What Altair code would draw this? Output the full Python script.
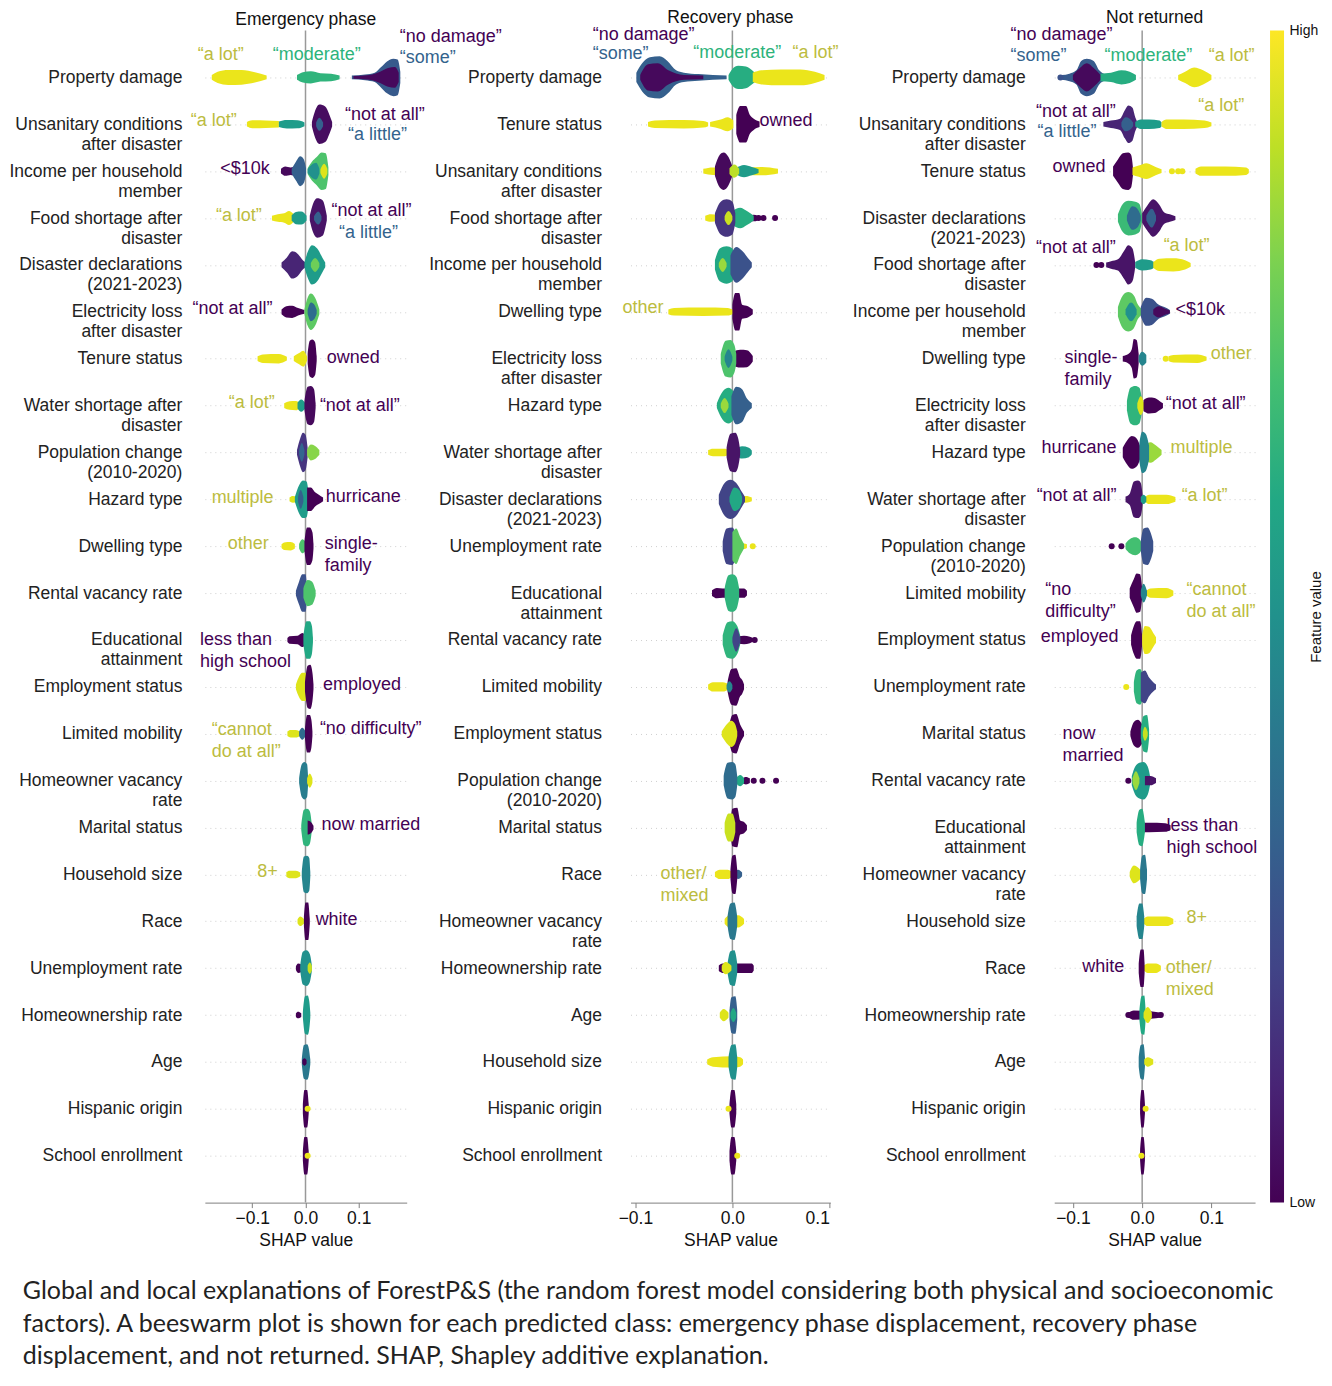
import altair as alt
import pandas as pd

FONT = "Liberation Sans"
CAPTION_FONT = "Lato"

# ---------------- feature order per panel (top to bottom) ----------------
FEATURES_EMERGENCY = [
    "Property damage", "Unsanitary conditions|after disaster", "Income per household|member",
    "Food shortage after|disaster", "Disaster declarations|(2021-2023)", "Electricity loss|after disaster",
    "Tenure status", "Water shortage after|disaster", "Population change|(2010-2020)", "Hazard type",
    "Dwelling type", "Rental vacancy rate", "Educational|attainment", "Employment status",
    "Limited mobility", "Homeowner vacancy|rate", "Marital status", "Household size", "Race",
    "Unemployment rate", "Homeownership rate", "Age", "Hispanic origin", "School enrollment",
]
FEATURES_RECOVERY = [
    "Property damage", "Tenure status", "Unsanitary conditions|after disaster", "Food shortage after|disaster",
    "Income per household|member", "Dwelling type", "Electricity loss|after disaster", "Hazard type",
    "Water shortage after|disaster", "Disaster declarations|(2021-2023)", "Unemployment rate",
    "Educational|attainment", "Rental vacancy rate", "Limited mobility", "Employment status",
    "Population change|(2010-2020)", "Marital status", "Race", "Homeowner vacancy|rate",
    "Homeownership rate", "Age", "Household size", "Hispanic origin", "School enrollment",
]
FEATURES_NOT_RETURNED = [
    "Property damage", "Unsanitary conditions|after disaster", "Tenure status", "Disaster declarations|(2021-2023)",
    "Food shortage after|disaster", "Income per household|member", "Dwelling type", "Electricity loss|after disaster",
    "Hazard type", "Water shortage after|disaster", "Population change|(2010-2020)", "Limited mobility",
    "Employment status", "Unemployment rate", "Marital status", "Rental vacancy rate", "Educational|attainment",
    "Homeowner vacancy|rate", "Household size", "Race", "Homeownership rate", "Age", "Hispanic origin",
    "School enrollment",
]

# ---------------- swarm outlines: (row, feature value, [(SHAP value, half-height in rows), ...]) ----------------
BLOBS_EMERGENCY = [
    (0, 0.97, [(-0.176, 0.05), (-0.165, 0.12), (-0.145, 0.16), (-0.12, 0.155), (-0.095, 0.11), (-0.073, 0.04)]),
    (0, 0.65, [(-0.016, 0.05), (-0.005, 0.11), (0.01, 0.13), (0.028, 0.09), (0.048, 0.08), (0.064, 0.04)]),
    (0, 0.28, [(0.087, 0.04), (0.112, 0.06), (0.13, 0.1), (0.142, 0.22), (0.153, 0.34), (0.165, 0.4), (0.173, 0.38), (0.178, 0.12)]),
    (0, 0.02, [(0.09, 0.03), (0.12, 0.05), (0.14, 0.12), (0.155, 0.2), (0.168, 0.22), (0.175, 0.1)]),
    (1, 0.97, [(-0.11, 0.05), (-0.1, 0.085), (-0.075, 0.08), (-0.05, 0.07)]),
    (1, 0.55, [(-0.05, 0.06), (-0.035, 0.09), (-0.015, 0.085), (-0.002, 0.04)]),
    (1, 0.03, [(0.012, 0.05), (0.017, 0.25), (0.026, 0.42), (0.037, 0.38), (0.045, 0.2), (0.05, 0.05)]),
    (1, 0.3, [(0.02, 0.04), (0.026, 0.14), (0.033, 0.04)]),
    (2, 0.02, [(-0.046, 0.05), (-0.038, 0.1), (-0.028, 0.08), (-0.018, 0.1), (-0.01, 0.05)]),
    (2, 0.3, [(-0.026, 0.05), (-0.018, 0.2), (-0.01, 0.32), (-0.003, 0.25), (0.001, 0.06)]),
    (2, 0.72, [(0.004, 0.06), (0.012, 0.2), (0.021, 0.3), (0.03, 0.4), (0.038, 0.38), (0.043, 0.08)]),
    (2, 0.5, [(0.004, 0.04), (0.012, 0.14), (0.02, 0.18), (0.026, 0.05)]),
    (2, 0.95, [(0.028, 0.04), (0.035, 0.16), (0.041, 0.05)]),
    (3, 0.97, [(-0.063, 0.05), (-0.052, 0.08), (-0.04, 0.1), (-0.031, 0.15), (-0.023, 0.09)]),
    (3, 0.55, [(-0.026, 0.06), (-0.018, 0.13), (-0.008, 0.14), (0.002, 0.05)]),
    (3, 0.05, [(0.008, 0.05), (0.014, 0.3), (0.022, 0.42), (0.032, 0.38), (0.04, 0.05)]),
    (3, 0.3, [(0.016, 0.04), (0.024, 0.14), (0.03, 0.04)]),
    (4, 0.1, [(-0.045, 0.05), (-0.035, 0.16), (-0.025, 0.29), (-0.015, 0.24), (-0.005, 0.1), (0.0, 0.05)]),
    (4, 0.55, [(-0.002, 0.05), (0.005, 0.3), (0.012, 0.42), (0.022, 0.35), (0.032, 0.15), (0.037, 0.05)]),
    (4, 0.78, [(0.01, 0.04), (0.018, 0.15), (0.026, 0.04)]),
    (5, 0.0, [(-0.045, 0.05), (-0.036, 0.12), (-0.025, 0.13), (-0.014, 0.08), (-0.002, 0.04)]),
    (5, 0.75, [(-0.002, 0.05), (0.004, 0.3), (0.01, 0.39), (0.018, 0.3), (0.026, 0.05)]),
    (5, 0.35, [(0.004, 0.04), (0.01, 0.2), (0.016, 0.16), (0.021, 0.04)]),
    (6, 0.97, [(-0.09, 0.05), (-0.08, 0.09), (-0.05, 0.1), (-0.035, 0.04)]),
    (6, 0.97, [(-0.022, 0.05), (-0.012, 0.12), (-0.004, 0.17), (0.003, 0.04)]),
    (6, 0.0, [(0.004, 0.1), (0.008, 0.38), (0.013, 0.41), (0.018, 0.35), (0.021, 0.05)]),
    (7, 0.97, [(-0.04, 0.05), (-0.03, 0.09), (-0.018, 0.1), (-0.01, 0.05)]),
    (7, 0.55, [(-0.015, 0.06), (-0.008, 0.13), (0.0, 0.05)]),
    (7, 0.02, [(-0.002, 0.1), (0.004, 0.4), (0.01, 0.42), (0.016, 0.35), (0.019, 0.05)]),
    (8, 0.15, [(-0.016, 0.05), (-0.01, 0.3), (-0.005, 0.42), (0.0, 0.38), (0.004, 0.1)]),
    (8, 0.32, [(-0.012, 0.04), (-0.007, 0.2), (-0.002, 0.05)]),
    (8, 0.82, [(0.003, 0.06), (0.01, 0.17), (0.018, 0.14), (0.026, 0.05)]),
    (9, 0.95, [(-0.03, 0.04), (-0.024, 0.07), (-0.016, 0.06)]),
    (9, 0.55, [(-0.02, 0.05), (-0.012, 0.3), (-0.005, 0.4), (0.002, 0.38), (0.006, 0.1)]),
    (9, 0.3, [(-0.014, 0.05), (-0.009, 0.2), (-0.004, 0.05)]),
    (9, 0.0, [(0.003, 0.25), (0.01, 0.25), (0.018, 0.15), (0.025, 0.1), (0.033, 0.04)]),
    (10, 0.97, [(-0.045, 0.04), (-0.04, 0.08), (-0.028, 0.09), (-0.02, 0.05)]),
    (10, 0.72, [(-0.012, 0.05), (-0.006, 0.15), (0.0, 0.1)]),
    (10, 0.0, [(-0.002, 0.1), (0.003, 0.4), (0.008, 0.4), (0.013, 0.3), (0.015, 0.05)]),
    (11, 0.25, [(-0.018, 0.05), (-0.012, 0.25), (-0.006, 0.4), (0.0, 0.4), (0.003, 0.1)]),
    (11, 0.72, [(-0.004, 0.1), (0.004, 0.28), (0.012, 0.25), (0.019, 0.06)]),
    (12, 0.0, [(-0.034, 0.04), (-0.03, 0.08), (-0.015, 0.09), (-0.006, 0.15), (0.0, 0.1)]),
    (12, 0.6, [(-0.004, 0.1), (0.002, 0.4), (0.008, 0.4), (0.012, 0.3), (0.014, 0.05)]),
    (13, 0.95, [(-0.018, 0.05), (-0.012, 0.22), (-0.006, 0.3), (0.0, 0.3), (0.003, 0.1)]),
    (13, 0.0, [(-0.001, 0.1), (0.004, 0.45), (0.009, 0.47), (0.013, 0.3), (0.015, 0.05)]),
    (14, 0.95, [(-0.034, 0.05), (-0.028, 0.08), (-0.018, 0.08), (-0.01, 0.04)]),
    (14, 0.35, [(-0.012, 0.05), (-0.006, 0.13), (0.0, 0.05)]),
    (14, 0.0, [(-0.001, 0.1), (0.003, 0.4), (0.008, 0.4), (0.011, 0.3), (0.013, 0.05)]),
    (15, 0.42, [(-0.012, 0.05), (-0.007, 0.35), (-0.002, 0.4), (0.003, 0.35), (0.005, 0.05)]),
    (15, 0.95, [(0.003, 0.05), (0.008, 0.15), (0.013, 0.05)]),
    (16, 0.65, [(-0.008, 0.05), (-0.003, 0.38), (0.003, 0.4), (0.008, 0.35), (0.012, 0.05)]),
    (16, 0.0, [(0.004, 0.15), (0.01, 0.12), (0.015, 0.04)]),
    (17, 0.95, [(-0.036, 0.05), (-0.03, 0.08), (-0.018, 0.08), (-0.01, 0.04)]),
    (17, 0.45, [(-0.007, 0.05), (-0.003, 0.38), (0.003, 0.4), (0.007, 0.35), (0.009, 0.05)]),
    (18, 0.95, [(-0.015, 0.04), (-0.01, 0.1), (-0.003, 0.05)]),
    (18, 0.0, [(-0.003, 0.1), (0.0, 0.4), (0.005, 0.4), (0.008, 0.05)]),
    (19, 0.0, [(-0.018, 0.04), (-0.014, 0.1), (-0.008, 0.08)]),
    (19, 0.5, [(-0.01, 0.05), (-0.005, 0.35), (0.002, 0.38), (0.008, 0.3), (0.012, 0.05)]),
    (19, 0.92, [(0.004, 0.05), (0.008, 0.12), (0.012, 0.05)]),
    (20, 0.0, [(-0.018, 0.04), (-0.014, 0.07), (-0.008, 0.04)]),
    (20, 0.55, [(-0.005, 0.05), (-0.001, 0.4), (0.004, 0.42), (0.007, 0.3), (0.009, 0.05)]),
    (21, 0.4, [(-0.007, 0.05), (-0.003, 0.36), (0.003, 0.38), (0.006, 0.3), (0.009, 0.05)]),
    (21, 0.0, [(-0.006, 0.04), (-0.002, 0.08), (0.002, 0.04)]),
    (22, 0.0, [(-0.005, 0.1), (-0.002, 0.4), (0.003, 0.4), (0.006, 0.1)]),
    (23, 0.0, [(-0.005, 0.1), (-0.002, 0.4), (0.003, 0.4), (0.006, 0.1)]),
]

BLOBS_RECOVERY = [
    (0, 0.3, [(-0.099, 0.1), (-0.093, 0.3), (-0.085, 0.43), (-0.075, 0.45), (-0.067, 0.35), (-0.058, 0.15), (-0.05, 0.1), (-0.035, 0.07), (-0.02, 0.05), (-0.006, 0.04)]),
    (0, 0.02, [(-0.095, 0.05), (-0.087, 0.28), (-0.077, 0.3), (-0.066, 0.15), (-0.05, 0.05), (-0.03, 0.04)]),
    (0, 0.62, [(-0.004, 0.05), (0.0, 0.18), (0.006, 0.25), (0.014, 0.23), (0.022, 0.12), (0.026, 0.05)]),
    (0, 0.97, [(0.021, 0.1), (0.03, 0.15), (0.05, 0.17), (0.07, 0.17), (0.085, 0.12), (0.095, 0.05)]),
    (1, 0.97, [(-0.087, 0.05), (-0.08, 0.08), (-0.05, 0.09), (-0.03, 0.07), (-0.025, 0.04)]),
    (1, 0.97, [(-0.023, 0.05), (-0.012, 0.1), (-0.005, 0.15), (0.001, 0.08)]),
    (1, 0.0, [(0.004, 0.2), (0.008, 0.39), (0.014, 0.39), (0.018, 0.2), (0.022, 0.12), (0.028, 0.06)]),
    (2, 0.97, [(-0.03, 0.05), (-0.02, 0.08), (0.0, 0.07), (0.03, 0.09), (0.047, 0.05)]),
    (2, 0.55, [(0.004, 0.07), (0.012, 0.13), (0.02, 0.09), (0.027, 0.04)]),
    (2, 0.02, [(-0.018, 0.1), (-0.013, 0.35), (-0.009, 0.4), (-0.004, 0.3), (0.0, 0.1)]),
    (2, 0.9, [(-0.003, 0.06), (0.002, 0.14), (0.007, 0.05)]),
    (3, 0.97, [(-0.028, 0.05), (-0.022, 0.08), (-0.015, 0.06)]),
    (3, 0.0, [(0.018, 0.05), (0.022, 0.07), (0.026, 0.05)]),
    (3, 0.62, [(0.0, 0.15), (0.008, 0.22), (0.015, 0.15), (0.022, 0.05)]),
    (3, 0.15, [(-0.018, 0.1), (-0.012, 0.35), (-0.006, 0.4), (0.0, 0.35), (0.003, 0.1)]),
    (3, 0.92, [(-0.008, 0.04), (-0.004, 0.15), (0.0, 0.04)]),
    (4, 0.6, [(-0.018, 0.1), (-0.013, 0.35), (-0.006, 0.4), (0.0, 0.35), (0.002, 0.1)]),
    (4, 0.25, [(-0.002, 0.2), (0.004, 0.38), (0.01, 0.3), (0.016, 0.15), (0.02, 0.05)]),
    (4, 0.85, [(-0.014, 0.04), (-0.01, 0.15), (-0.006, 0.04)]),
    (5, 0.97, [(-0.066, 0.05), (-0.06, 0.08), (-0.03, 0.09), (-0.005, 0.08), (0.001, 0.04)]),
    (5, 0.0, [(0.0, 0.15), (0.003, 0.4), (0.007, 0.4), (0.01, 0.15), (0.016, 0.12), (0.021, 0.05)]),
    (6, 0.0, [(0.001, 0.15), (0.008, 0.19), (0.015, 0.18), (0.021, 0.06)]),
    (6, 0.72, [(-0.012, 0.1), (-0.007, 0.38), (-0.002, 0.4), (0.002, 0.3), (0.004, 0.1)]),
    (6, 0.45, [(-0.008, 0.04), (-0.004, 0.2), (0.0, 0.04)]),
    (7, 0.62, [(-0.016, 0.05), (-0.01, 0.3), (-0.004, 0.38), (0.001, 0.3), (0.003, 0.1)]),
    (7, 0.3, [(-0.001, 0.2), (0.004, 0.4), (0.01, 0.35), (0.015, 0.15), (0.02, 0.05)]),
    (7, 0.85, [(-0.012, 0.04), (-0.008, 0.16), (-0.004, 0.04)]),
    (8, 0.97, [(-0.025, 0.05), (-0.02, 0.08), (-0.008, 0.08), (-0.004, 0.05)]),
    (8, 0.55, [(0.004, 0.08), (0.01, 0.13), (0.017, 0.1), (0.02, 0.04)]),
    (8, 0.05, [(-0.006, 0.1), (-0.002, 0.4), (0.003, 0.42), (0.006, 0.3), (0.008, 0.05)]),
    (9, 0.97, [(0.008, 0.05), (0.014, 0.07), (0.02, 0.04)]),
    (9, 0.2, [(-0.014, 0.1), (-0.008, 0.35), (-0.002, 0.42), (0.004, 0.35), (0.01, 0.15), (0.013, 0.05)]),
    (9, 0.6, [(-0.003, 0.05), (0.002, 0.25), (0.007, 0.2), (0.01, 0.05)]),
    (10, 0.97, [(0.008, 0.05), (0.012, 0.06), (0.015, 0.04)]),
    (10, 0.2, [(-0.01, 0.1), (-0.006, 0.38), (0.0, 0.4), (0.004, 0.2)]),
    (10, 0.75, [(0.0, 0.3), (0.004, 0.38), (0.008, 0.2), (0.012, 0.05)]),
    (11, 0.0, [(-0.021, 0.06), (-0.016, 0.11), (-0.01, 0.1), (0.005, 0.1), (0.012, 0.1), (0.015, 0.05)]),
    (11, 0.65, [(-0.008, 0.1), (-0.004, 0.38), (0.0, 0.4), (0.004, 0.35), (0.007, 0.1)]),
    (12, 0.0, [(0.006, 0.08), (0.012, 0.09), (0.018, 0.07), (0.021, 0.04)]),
    (12, 0.65, [(-0.01, 0.1), (-0.005, 0.38), (0.0, 0.4), (0.005, 0.3), (0.008, 0.1)]),
    (12, 0.2, [(0.0, 0.05), (0.004, 0.25), (0.008, 0.05)]),
    (13, 0.97, [(-0.025, 0.05), (-0.02, 0.1), (-0.01, 0.1), (-0.003, 0.05)]),
    (13, 0.0, [(-0.005, 0.1), (-0.001, 0.38), (0.004, 0.4), (0.008, 0.2), (0.01, 0.15), (0.012, 0.05)]),
    (13, 0.45, [(-0.006, 0.04), (-0.003, 0.12), (0.0, 0.04)]),
    (14, 0.0, [(-0.004, 0.1), (0.0, 0.4), (0.004, 0.42), (0.008, 0.2), (0.012, 0.05)]),
    (14, 0.95, [(-0.011, 0.05), (-0.006, 0.2), (-0.001, 0.28), (0.003, 0.2), (0.005, 0.05)]),
    (15, 0.0, [(0.01, 0.05), (0.014, 0.08), (0.018, 0.05)]),
    (15, 0.6, [(0.004, 0.06), (0.008, 0.12), (0.012, 0.05)]),
    (15, 0.35, [(-0.009, 0.1), (-0.005, 0.38), (0.0, 0.4), (0.003, 0.35), (0.005, 0.1)]),
    (16, 0.0, [(-0.002, 0.1), (0.0, 0.4), (0.005, 0.42), (0.008, 0.15), (0.012, 0.12), (0.015, 0.05)]),
    (16, 0.92, [(-0.008, 0.1), (-0.004, 0.3), (0.0, 0.3), (0.003, 0.1)]),
    (17, 0.97, [(-0.018, 0.05), (-0.013, 0.1), (-0.005, 0.1), (0.0, 0.05)]),
    (17, 0.3, [(0.002, 0.04), (0.006, 0.1), (0.01, 0.04)]),
    (17, 0.0, [(-0.002, 0.1), (0.0, 0.4), (0.003, 0.42), (0.005, 0.1)]),
    (18, 0.97, [(-0.008, 0.05), (-0.003, 0.13), (0.006, 0.13), (0.012, 0.05)]),
    (18, 0.4, [(-0.005, 0.1), (-0.002, 0.38), (0.002, 0.4), (0.005, 0.1)]),
    (19, 0.0, [(-0.014, 0.06), (-0.01, 0.1), (0.01, 0.1), (0.02, 0.1), (0.022, 0.05)]),
    (19, 0.5, [(-0.005, 0.1), (-0.002, 0.36), (0.002, 0.38), (0.005, 0.1)]),
    (19, 0.95, [(-0.011, 0.05), (-0.007, 0.13), (-0.001, 0.05)]),
    (20, 0.95, [(-0.013, 0.05), (-0.009, 0.13), (-0.004, 0.05)]),
    (20, 0.3, [(-0.003, 0.1), (-0.001, 0.38), (0.003, 0.4), (0.005, 0.1)]),
    (20, 0.6, [(-0.002, 0.05), (0.001, 0.15), (0.004, 0.05)]),
    (21, 0.97, [(-0.026, 0.05), (-0.02, 0.1), (0.0, 0.12), (0.008, 0.1), (0.011, 0.05)]),
    (21, 0.5, [(-0.004, 0.1), (-0.001, 0.36), (0.003, 0.38), (0.005, 0.1)]),
    (22, 0.0, [(-0.003, 0.1), (-0.001, 0.4), (0.002, 0.4), (0.004, 0.1)]),
    (23, 0.0, [(-0.003, 0.1), (-0.001, 0.4), (0.002, 0.4), (0.004, 0.1)]),
]

BLOBS_NOT_RETURNED = [
    (0, 0.28, [(-0.116, 0.05), (-0.105, 0.08), (-0.095, 0.15), (-0.088, 0.35), (-0.08, 0.4), (-0.07, 0.35), (-0.062, 0.15), (-0.053, 0.06)]),
    (0, 0.02, [(-0.1, 0.05), (-0.09, 0.2), (-0.08, 0.3), (-0.07, 0.2), (-0.06, 0.05)]),
    (0, 0.62, [(-0.06, 0.08), (-0.045, 0.1), (-0.03, 0.15), (-0.018, 0.12), (-0.009, 0.05)]),
    (0, 0.97, [(0.052, 0.05), (0.062, 0.12), (0.075, 0.21), (0.088, 0.15), (0.1, 0.05)]),
    (1, 0.1, [(-0.056, 0.05), (-0.045, 0.08), (-0.032, 0.12), (-0.025, 0.3), (-0.02, 0.4), (-0.014, 0.35), (-0.01, 0.15), (-0.007, 0.05)]),
    (1, 0.3, [(-0.03, 0.04), (-0.024, 0.15), (-0.018, 0.12), (-0.013, 0.04)]),
    (1, 0.55, [(-0.01, 0.05), (-0.002, 0.1), (0.01, 0.1), (0.025, 0.08), (0.028, 0.04)]),
    (1, 0.97, [(0.028, 0.05), (0.035, 0.1), (0.06, 0.1), (0.09, 0.08), (0.1, 0.04)]),
    (2, 0.0, [(-0.042, 0.1), (-0.035, 0.25), (-0.028, 0.38), (-0.02, 0.4), (-0.016, 0.35), (-0.013, 0.05)]),
    (2, 0.97, [(-0.014, 0.08), (-0.005, 0.12), (0.006, 0.17), (0.015, 0.12), (0.024, 0.06), (0.028, 0.04)]),
    (2, 0.97, [(0.077, 0.05), (0.085, 0.1), (0.12, 0.1), (0.15, 0.08), (0.154, 0.04)]),
    (3, 0.68, [(-0.035, 0.08), (-0.028, 0.3), (-0.02, 0.37), (-0.01, 0.35), (-0.004, 0.3), (0.0, 0.05)]),
    (3, 0.35, [(-0.022, 0.05), (-0.014, 0.25), (-0.007, 0.2), (-0.002, 0.05)]),
    (3, 0.05, [(0.0, 0.1), (0.008, 0.28), (0.016, 0.4), (0.024, 0.3), (0.032, 0.12), (0.04, 0.08), (0.048, 0.04)]),
    (3, 0.3, [(0.006, 0.05), (0.014, 0.2), (0.02, 0.05)]),
    (4, 0.05, [(-0.052, 0.05), (-0.045, 0.08), (-0.035, 0.12), (-0.026, 0.3), (-0.02, 0.42), (-0.014, 0.35), (-0.01, 0.05)]),
    (4, 0.55, [(-0.01, 0.06), (0.0, 0.12), (0.012, 0.1), (0.018, 0.05)]),
    (4, 0.97, [(0.016, 0.06), (0.025, 0.13), (0.045, 0.14), (0.062, 0.1), (0.07, 0.04)]),
    (5, 0.75, [(-0.035, 0.1), (-0.028, 0.35), (-0.02, 0.42), (-0.012, 0.35), (-0.006, 0.15), (0.0, 0.05)]),
    (5, 0.5, [(-0.024, 0.05), (-0.016, 0.2), (-0.008, 0.05)]),
    (5, 0.25, [(-0.002, 0.1), (0.006, 0.3), (0.014, 0.28), (0.024, 0.15), (0.032, 0.1), (0.04, 0.04)]),
    (5, 0.02, [(0.016, 0.05), (0.024, 0.12), (0.034, 0.06), (0.04, 0.03)]),
    (6, 0.0, [(-0.028, 0.06), (-0.02, 0.1), (-0.015, 0.2), (-0.012, 0.42), (-0.008, 0.4), (-0.005, 0.1)]),
    (6, 0.45, [(-0.005, 0.06), (0.0, 0.15), (0.006, 0.08)]),
    (6, 0.97, [(0.038, 0.05), (0.045, 0.08), (0.08, 0.09), (0.093, 0.04)]),
    (7, 0.65, [(-0.022, 0.1), (-0.017, 0.38), (-0.01, 0.42), (-0.004, 0.38), (0.0, 0.1)]),
    (7, 0.95, [(-0.007, 0.05), (-0.002, 0.2), (0.003, 0.05)]),
    (7, 0.0, [(0.002, 0.12), (0.01, 0.17), (0.018, 0.16), (0.025, 0.1), (0.03, 0.05)]),
    (8, 0.0, [(-0.028, 0.1), (-0.022, 0.25), (-0.015, 0.35), (-0.008, 0.3), (-0.002, 0.1)]),
    (8, 0.85, [(0.004, 0.15), (0.012, 0.22), (0.02, 0.15), (0.028, 0.05)]),
    (8, 0.45, [(-0.004, 0.2), (0.0, 0.44), (0.005, 0.4), (0.01, 0.15)]),
    (9, 0.05, [(-0.024, 0.06), (-0.018, 0.12), (-0.012, 0.38), (-0.006, 0.4), (-0.002, 0.35), (0.001, 0.05)]),
    (9, 0.97, [(0.004, 0.05), (0.01, 0.1), (0.035, 0.1), (0.048, 0.05)]),
    (9, 0.55, [(-0.002, 0.05), (0.002, 0.1), (0.006, 0.05)]),
    (10, 0.7, [(-0.024, 0.06), (-0.018, 0.15), (-0.01, 0.19), (-0.004, 0.15), (0.0, 0.05)]),
    (10, 0.25, [(-0.002, 0.1), (0.002, 0.38), (0.008, 0.4), (0.012, 0.3), (0.016, 0.1)]),
    (11, 0.97, [(0.006, 0.05), (0.012, 0.1), (0.035, 0.11), (0.045, 0.05)]),
    (11, 0.0, [(-0.018, 0.1), (-0.012, 0.3), (-0.008, 0.42), (-0.003, 0.4), (0.0, 0.1)]),
    (11, 0.45, [(-0.002, 0.05), (0.002, 0.2), (0.007, 0.05)]),
    (12, 0.0, [(-0.016, 0.1), (-0.012, 0.3), (-0.008, 0.4), (-0.003, 0.4), (0.0, 0.1)]),
    (12, 0.97, [(0.0, 0.1), (0.004, 0.3), (0.01, 0.28), (0.016, 0.15), (0.02, 0.06)]),
    (13, 0.65, [(-0.012, 0.1), (-0.008, 0.35), (-0.003, 0.38), (0.002, 0.2)]),
    (13, 0.2, [(-0.002, 0.3), (0.004, 0.35), (0.01, 0.2), (0.016, 0.1), (0.02, 0.05)]),
    (14, 0.0, [(-0.017, 0.05), (-0.012, 0.25), (-0.006, 0.3), (0.0, 0.2)]),
    (14, 0.62, [(-0.002, 0.1), (0.002, 0.38), (0.007, 0.4), (0.01, 0.1)]),
    (14, 0.92, [(0.001, 0.04), (0.004, 0.15), (0.008, 0.04)]),
    (15, 0.55, [(-0.015, 0.1), (-0.01, 0.3), (-0.004, 0.38), (0.002, 0.4), (0.008, 0.3), (0.012, 0.05)]),
    (15, 0.85, [(-0.014, 0.05), (-0.009, 0.2), (-0.004, 0.05)]),
    (15, 0.05, [(0.004, 0.1), (0.012, 0.1), (0.02, 0.05)]),
    (16, 0.0, [(0.002, 0.1), (0.01, 0.1), (0.033, 0.09), (0.041, 0.05)]),
    (16, 0.62, [(-0.008, 0.1), (-0.004, 0.38), (0.0, 0.4), (0.004, 0.1)]),
    (17, 0.95, [(-0.018, 0.05), (-0.012, 0.19), (-0.004, 0.12), (0.0, 0.05)]),
    (17, 0.4, [(-0.003, 0.1), (0.0, 0.4), (0.004, 0.42), (0.007, 0.1)]),
    (18, 0.97, [(0.002, 0.05), (0.008, 0.1), (0.035, 0.1), (0.045, 0.05)]),
    (18, 0.45, [(-0.008, 0.1), (-0.004, 0.38), (0.0, 0.38), (0.003, 0.1)]),
    (19, 0.97, [(0.002, 0.05), (0.008, 0.1), (0.02, 0.1), (0.027, 0.05)]),
    (19, 0.0, [(-0.005, 0.1), (-0.002, 0.4), (0.002, 0.4), (0.0035, 0.1)]),
    (20, 0.0, [(-0.02, 0.05), (-0.012, 0.1), (0.012, 0.08), (0.028, 0.05)]),
    (20, 0.6, [(-0.004, 0.1), (-0.001, 0.4), (0.003, 0.42), (0.005, 0.1)]),
    (20, 0.95, [(0.002, 0.05), (0.008, 0.17), (0.014, 0.05)]),
    (21, 0.4, [(-0.005, 0.1), (-0.002, 0.36), (0.002, 0.38), (0.004, 0.1)]),
    (21, 0.95, [(0.003, 0.05), (0.008, 0.1), (0.016, 0.05)]),
    (22, 0.0, [(-0.003, 0.1), (-0.001, 0.4), (0.002, 0.4), (0.004, 0.1)]),
    (23, 0.0, [(-0.003, 0.1), (-0.001, 0.4), (0.002, 0.4), (0.004, 0.1)]),
]

# ---------------- isolated points: (row, SHAP value, feature value) ----------------
DOTS_EMERGENCY = [(22, 0.004, 0.97), (23, 0.004, 0.97)]
DOTS_RECOVERY = [(3, 0.027, 0.0), (3, 0.032, 0.0), (3, 0.044, 0.0), (10, 0.021, 0.97), (12, 0.023, 0.0),
                 (15, 0.022, 0.0), (15, 0.031, 0.0), (15, 0.045, 0.0), (22, -0.004, 0.97), (23, 0.005, 0.97)]
DOTS_NOT_RETURNED = [(0, -0.118, 0.25), (2, 0.043, 0.97), (2, 0.052, 0.97), (2, 0.058, 0.97), (4, -0.066, 0.0),
                     (4, -0.059, 0.0), (6, 0.034, 0.97), (10, -0.044, 0.0), (10, -0.03, 0.0), (13, -0.023, 0.97),
                     (15, -0.02, 0.0), (20, -0.02, 0.0), (20, 0.027, 0.0), (22, 0.005, 0.97), (23, -0.001, 0.97)]

# ---------------- category annotations: (text, SHAP value, row, colour key, align) ----------------
NOTES_EMERGENCY = [
    ("“a lot”", -0.159, -0.47, "hi", "center"), ("“moderate”", 0.021, -0.47, "mid", "center"),
    ("“no damage”", 0.177, -0.87, "low", "left"), ("“some”", 0.177, -0.42, "some", "left"),
    ("“a lot”", -0.129, 0.93, "hi", "right"), ("“not at all”", 0.074, 0.81, "low", "left"),
    ("“a little”", 0.08, 1.23, "some", "left"), ("<$10k", -0.067, 1.95, "low", "right"),
    ("“a lot”", -0.082, 2.95, "hi", "right"), ("“not at all”", 0.049, 2.84, "low", "left"),
    ("“a little”", 0.063, 3.31, "some", "left"), ("“not at all”", -0.062, 4.94, "low", "right"),
    ("owned", 0.04, 5.98, "low", "left"), ("“a lot”", -0.058, 6.95, "hi", "right"),
    ("“not at all”", 0.027, 7.0, "low", "left"), ("multiple", -0.06, 8.97, "hi", "right"),
    ("hurricane", 0.038, 8.95, "low", "left"), ("other", -0.069, 9.96, "hi", "right"),
    ("single-\nfamily", 0.036, 9.96, "low", "left"), ("less than\nhigh school", -0.198, 12.0, "low", "left"),
    ("employed", 0.033, 12.97, "low", "left"), ("“cannot\ndo at all”", -0.176, 13.93, "hi", "left"),
    ("“no difficulty”", 0.027, 13.9, "low", "left"), ("now married", 0.03, 15.94, "low", "left"),
    ("8+", -0.052, 16.94, "hi", "right"), ("white", 0.019, 17.98, "low", "left"),
]
NOTES_RECOVERY = [
    ("“no damage”", -0.144, -0.91, "low", "left"), ("“some”", -0.144, -0.49, "some", "left"),
    ("“moderate”", 0.005, -0.53, "mid", "center"), ("“a lot”", 0.062, -0.53, "hi", "left"),
    ("owned", 0.028, 0.93, "low", "left"), ("other", -0.071, 4.92, "hi", "right"),
    ("other/\nmixed", -0.074, 17.0, "hi", "left"),
]
NOTES_NOT_RETURNED = [
    ("“no damage”", -0.19, -0.91, "low", "left"), ("“some”", -0.19, -0.45, "some", "left"),
    ("“moderate”", 0.009, -0.45, "mid", "center"), ("“a lot”", 0.096, -0.45, "hi", "left"),
    ("“a lot”", 0.081, 0.61, "hi", "left"), ("“not at all”", -0.038, 0.74, "low", "right"),
    ("“a little”", -0.066, 1.17, "some", "right"), ("owned", -0.053, 1.91, "low", "right"),
    ("“not at all”", -0.038, 3.63, "low", "right"), ("“a lot”", 0.031, 3.6, "hi", "left"),
    ("<$10k", 0.048, 4.96, "low", "left"), ("single-\nfamily", -0.112, 5.98, "low", "left"),
    ("other", 0.099, 5.91, "hi", "left"), ("“not at all”", 0.034, 6.97, "low", "left"),
    ("hurricane", -0.037, 7.91, "low", "right"), ("multiple", 0.041, 7.91, "hi", "left"),
    ("“not at all”", -0.037, 8.93, "low", "right"), ("“a lot”", 0.057, 8.93, "hi", "left"),
    ("“no\ndifficulty”", -0.14, 10.94, "low", "left"), ("“cannot\ndo at all”", 0.064, 10.94, "hi", "left"),
    ("employed", -0.034, 11.94, "low", "right"), ("now\nmarried", -0.115, 14.01, "low", "left"),
    ("less than\nhigh school", 0.035, 15.96, "low", "left"), ("8+", 0.064, 17.94, "hi", "left"),
    ("white", -0.026, 18.97, "low", "right"), ("other/\nmixed", 0.034, 19.0, "hi", "left"),
]
NOTE_COLORS = {"hi": "#bcbc40", "mid": "#2db37b", "low": "#440154", "some": "#33638d"}

X_DOMAINS = {"e": [-0.189, 0.190], "r": [-0.105, 0.101], "n": [-0.127, 0.163]}
X_TICKS = [-0.1, 0.0, 0.1]
LABEL_PAD = {"e": 23, "r": 29, "n": 29}

CAPTION = [
    "Global and local explanations of ForestP&S (the random forest model considering both physical and socioeconomic",
    "factors). A beeswarm plot is shown for each predicted class: emergency phase displacement, recovery phase",
    "displacement, and not returned. SHAP, Shapley additive explanation.",
]

VIRIDIS_STOPS = ["#440154", "#482475", "#414487", "#355f8d", "#2a788e", "#21918c",
                 "#22a884", "#44bf70", "#7ad151", "#bddf26", "#fde725"]

PLOT_H = 1173
COLOR_SCALE = alt.Scale(scheme="viridis", domain=[0, 1])


def panel(key, title, feats, blobs, dots, notes, width):
    rows = []
    for i, (r, v, pts) in enumerate(blobs):
        for x, hw in pts:
            rows.append({"blob": f"{key}_{i:03d}", "x": x, "y": r - hw, "y2": r + hw, "v": v})
    bdf = pd.DataFrame(rows)
    ddf = pd.DataFrame([{"r": r, "x": x, "v": v} for r, x, v in dots])
    ndf = pd.DataFrame([{"t": t, "x": x, "r": r, "c": NOTE_COLORS[c], "a": a} for t, x, r, c, a in notes])

    xs = alt.Scale(domain=X_DOMAINS[key], nice=False, zero=False)
    ys = alt.Scale(domain=[-1, 24], reverse=True, nice=False, zero=False)
    label_js = "[" + ",".join("'" + f + "'" for f in feats) + "]"
    xaxis = alt.Axis(values=X_TICKS, format=".1f", title="SHAP value", grid=False,
                     labelFontSize=17.5, titleFontSize=17.5, titleFontWeight="normal",
                     labelColor="#111", titleColor="#111", tickColor="#808080", domainColor="#808080",
                     tickSize=5, labelPadding=2, titlePadding=4)
    yaxis = alt.Axis(values=list(range(24)), labelExpr=f"split({label_js}[datum.value], '|')",
                     title=None, domain=False, ticks=False, tickSize=0, labelPadding=LABEL_PAD[key],
                     labelFontSize=17.5, labelColor="#222", labelLineHeight=20, labelLimit=400,
                     grid=True, gridColor="#cfcfcf", gridDash=[1, 4], gridWidth=1)

    def X(f):
        return alt.X(f"{f}:Q", scale=xs, axis=xaxis)

    def Y(f):
        return alt.Y(f"{f}:Q", scale=ys, axis=yaxis)

    zero = alt.Chart(pd.DataFrame({"x": [0.0]})).mark_rule(color="#999999", strokeWidth=1.5).encode(x=X("x"))
    areas = alt.Chart(bdf).mark_area(orient="vertical", interpolate="monotone", opacity=1).encode(
        x=X("x"), y=Y("y"), y2="y2:Q", detail="blob:N",
        color=alt.Color("v:Q", scale=COLOR_SCALE, legend=None))
    layers = [zero, areas]
    if len(ddf):
        layers.append(alt.Chart(ddf).mark_circle(size=36, opacity=1).encode(
            x=X("x"), y=Y("r"), color=alt.Color("v:Q", scale=COLOR_SCALE, legend=None)))
    for a in ["left", "right", "center"]:
        sub = ndf[ndf["a"] == a]
        if len(sub):
            layers.append(alt.Chart(sub).mark_text(align=a, baseline="middle", fontSize=18, font=FONT,
                                                    lineBreak="\n", lineHeight=22).encode(
                x=X("x"), y=Y("r"), text="t:N", color=alt.Color("c:N", scale=None)))
    return alt.layer(*layers).properties(
        width=width, height=PLOT_H,
        title=alt.TitleParams(title, fontSize=17.5, fontWeight="normal", font=FONT, color="#111",
                              anchor="middle", frame="group", offset=-1))


p1 = panel("e", "Emergency phase", FEATURES_EMERGENCY, BLOBS_EMERGENCY, DOTS_EMERGENCY, NOTES_EMERGENCY, 202)
p2 = panel("r", "Recovery phase", FEATURES_RECOVERY, BLOBS_RECOVERY, DOTS_RECOVERY, NOTES_RECOVERY, 200)
p3 = panel("n", "Not returned", FEATURES_NOT_RETURNED, BLOBS_NOT_RETURNED, DOTS_NOT_RETURNED, NOTES_NOT_RETURNED, 201)

inner = alt.hconcat(p1, p2, p3, spacing=224, bounds="flush")

gradient = {"gradient": "linear", "x1": 0, "x2": 0, "y1": 1, "y2": 0,
            "stops": [{"offset": i / (len(VIRIDIS_STOPS) - 1), "color": c} for i, c in enumerate(VIRIDIS_STOPS)]}
cbar = alt.Chart(pd.DataFrame({"lo": [0.0], "hi": [1.0]})).mark_rect(color=gradient).encode(
    y=alt.Y("lo:Q", scale=alt.Scale(domain=[0, 1], nice=False),
            axis=alt.Axis(orient="right", values=[0, 1], labelExpr="datum.value >= 1 ? 'High' : 'Low'",
                          domain=False, ticks=False, grid=False, labelPadding=5, labelFontSize=14,
                          labelColor="#111", title="Feature value", titleFontSize=15,
                          titleFontWeight="normal", titleAngle=270, titlePadding=6, titleColor="#111")),
    y2="hi:Q",
).properties(width=14, height=PLOT_H)

chart = alt.hconcat(inner, cbar, spacing=12).properties(
    padding={"left": 0, "right": 0, "top": 0, "bottom": 0},
    title=alt.TitleParams(CAPTION, orient="bottom", anchor="start", fontSize=25, font=CAPTION_FONT,
                          fontWeight="normal", color="#222", lineHeight=33, offset=30, dx=14),
).configure_view(stroke=None).configure_axis(labelFont=FONT, titleFont=FONT)

chart.save("out.html", embed_options={"renderer": "svg", "actions": False})
